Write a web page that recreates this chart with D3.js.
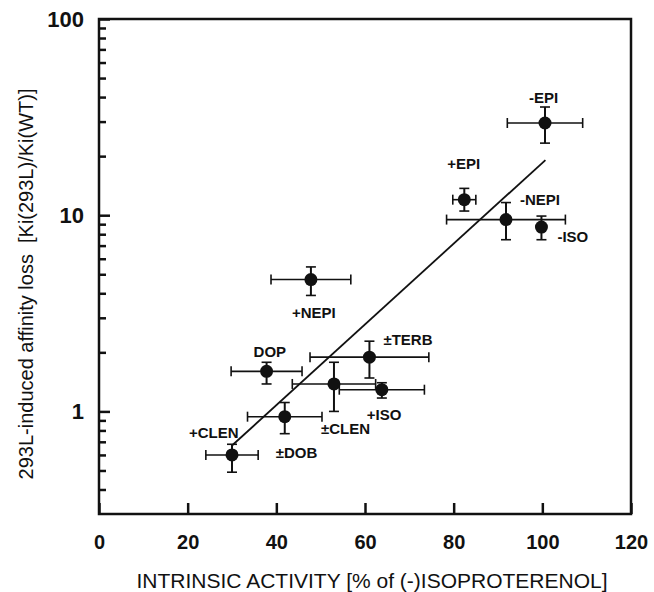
<!DOCTYPE html>
<html>
<head>
<meta charset="utf-8">
<script src="https://cdn.jsdelivr.net/npm/d3@7"></script>
<style>
    body { margin: 0; background: #fff; }
    svg { display: block; font-family: "Liberation Sans", Arial, sans-serif; }
</style>
</head>
<body>
<div id="chart"></div>
<script>
const drugs = ['-EPI', '+EPI', '-NEPI', '-ISO', '+NEPI', 'DOP', '±TERB', '±CLEN', '+ISO', '±DOB', '+CLEN'];
const activity = [100.6, 82.4, 91.8, 99.8, 47.8, 37.8, 61.0, 53.0, 63.8, 41.9, 30.0];
const activityErr = [8.5, 2.6, 13.4, 0, 9.0, 8.0, 13.4, 9.4, 9.6, 8.4, 5.9];
const affinity = [29.5, 12.0, 9.5, 8.7, 4.7, 1.6, 1.89, 1.38, 1.29, 0.94, 0.6];
const affinityLow = [23.3, 10.5, 7.5, 7.5, 3.9, 1.38, 1.48, 1.0, 1.17, 0.77, 0.49];
const affinityHigh = [35.6, 13.7, 11.6, 9.9, 5.45, 1.78, 2.28, 1.78, 1.4, 1.11, 0.68];

// regression line end points
const fitX = [30, 100.7];
const fitY = [0.67, 19.1];

const xTicks = [0, 20, 40, 60, 80, 100, 120];
const yMajor = [1, 10, 100];
const yMinor = [0.4, 0.5, 0.6, 0.7, 0.8, 0.9, 2, 3, 4, 5, 6, 7, 8, 9, 20, 30, 40, 50, 60, 70, 80, 90];

// label offsets (px) from the point centre
const labelOffsets = [[-16, -20], [-17, -31], [14, -15], [16, 15], [-19, 38], [-13, -14],
    [14, -12], [-13, 50], [-15, 30], [-9, 41], [-43, -17]];

const width = 654, height = 592;
const margin = { left: 99, right: 631, top: 19, bottom: 514 };

const svg = d3.select('#chart').append('svg')
    .attr('width', width)
    .attr('height', height);

const x = d3.scaleLinear().domain([0, 120]).range([margin.left, margin.right]);
const y = d3.scaleLog().domain([0.3, 100]).range([margin.bottom, margin.top]);

// x axis (ticks point inward)
const xAxis = svg.append('g')
    .attr('transform', `translate(0,${margin.bottom})`)
    .call(d3.axisBottom(x).tickValues(xTicks).tickSize(-11).tickPadding(21).tickFormat(d3.format('d')));
xAxis.select('.domain').remove();
xAxis.selectAll('line').attr('stroke', '#111').attr('stroke-width', 2.5);
xAxis.selectAll('text').attr('font-size', 20).attr('font-weight', 'bold').attr('fill', '#111')
    .attr('font-family', '"Liberation Sans", Arial, sans-serif');

// y axis, major and minor ticks
const yAxis = svg.append('g')
    .attr('transform', `translate(${margin.left},0)`)
    .call(d3.axisLeft(y).tickValues(yMajor).tickSize(-11).tickPadding(15).tickFormat(d3.format('d')));
yAxis.select('.domain').remove();
yAxis.selectAll('line').attr('stroke', '#111').attr('stroke-width', 2.5);
yAxis.selectAll('text').attr('font-size', 22).attr('font-weight', 'bold').attr('fill', '#111')
    .attr('font-family', '"Liberation Sans", Arial, sans-serif');

const yMinorAxis = svg.append('g')
    .attr('transform', `translate(${margin.left},0)`)
    .call(d3.axisLeft(y).tickValues(yMinor).tickSize(-7).tickFormat(''));
yMinorAxis.select('.domain').remove();
yMinorAxis.selectAll('line').attr('stroke', '#111').attr('stroke-width', 2.5);

// frame
svg.append('rect')
    .attr('x', margin.left).attr('y', margin.top)
    .attr('width', margin.right - margin.left).attr('height', margin.bottom - margin.top)
    .attr('fill', 'none').attr('stroke', '#111').attr('stroke-width', 2.5);

// regression line
svg.append('line')
    .attr('x1', x(fitX[0])).attr('y1', y(fitY[0]))
    .attr('x2', x(fitX[1])).attr('y2', y(fitY[1]))
    .attr('stroke', '#111').attr('stroke-width', 1.8);

const points = drugs.map((name, i) => ({
    name,
    a: activity[i],
    ae: activityErr[i],
    k: affinity[i],
    lo: affinityLow[i],
    hi: affinityHigh[i],
    off: labelOffsets[i]
}));

const cap = 5;
const bars = svg.append('g').attr('stroke', '#111').attr('stroke-width', 1.6);

points.forEach(d => {
    const cx = x(d.a), cy = y(d.k);
    if (d.ae > 0) {
        const x0 = x(d.a - d.ae), x1 = x(d.a + d.ae);
        bars.append('line').attr('x1', x0).attr('x2', x1).attr('y1', cy).attr('y2', cy);
        bars.append('line').attr('x1', x0).attr('x2', x0).attr('y1', cy - cap).attr('y2', cy + cap);
        bars.append('line').attr('x1', x1).attr('x2', x1).attr('y1', cy - cap).attr('y2', cy + cap);
    }
    const y0 = y(d.lo), y1 = y(d.hi);
    bars.append('line').attr('x1', cx).attr('x2', cx).attr('y1', y0).attr('y2', y1).attr('stroke-width', 2);
    bars.append('line').attr('x1', cx - cap).attr('x2', cx + cap).attr('y1', y0).attr('y2', y0);
    bars.append('line').attr('x1', cx - cap).attr('x2', cx + cap).attr('y1', y1).attr('y2', y1);
});

svg.append('g').selectAll('circle')
    .data(points)
    .join('circle')
    .attr('cx', d => x(d.a))
    .attr('cy', d => y(d.k))
    .attr('r', 6.5)
    .attr('fill', '#111');

svg.append('g').selectAll('text')
    .data(points)
    .join('text')
    .attr('x', d => x(d.a) + d.off[0])
    .attr('y', d => y(d.k) + d.off[1])
    .attr('font-size', 15)
    .attr('font-weight', 'bold')
    .attr('fill', '#111')
    .text(d => d.name);

// axis titles
svg.append('text')
    .attr('x', 372).attr('y', 588)
    .attr('text-anchor', 'middle')
    .attr('font-size', 21)
    .attr('fill', '#111')
    .text('INTRINSIC ACTIVITY [% of (-)ISOPROTERENOL]');

svg.append('text')
    .attr('transform', 'translate(33,284) rotate(-90)')
    .attr('text-anchor', 'middle')
    .attr('font-size', 20)
    .attr('fill', '#111')
    .style('white-space', 'pre')
    .text('293L-induced affinity loss  [Ki(293L)/Ki(WT)]');
</script>
</body>
</html>
